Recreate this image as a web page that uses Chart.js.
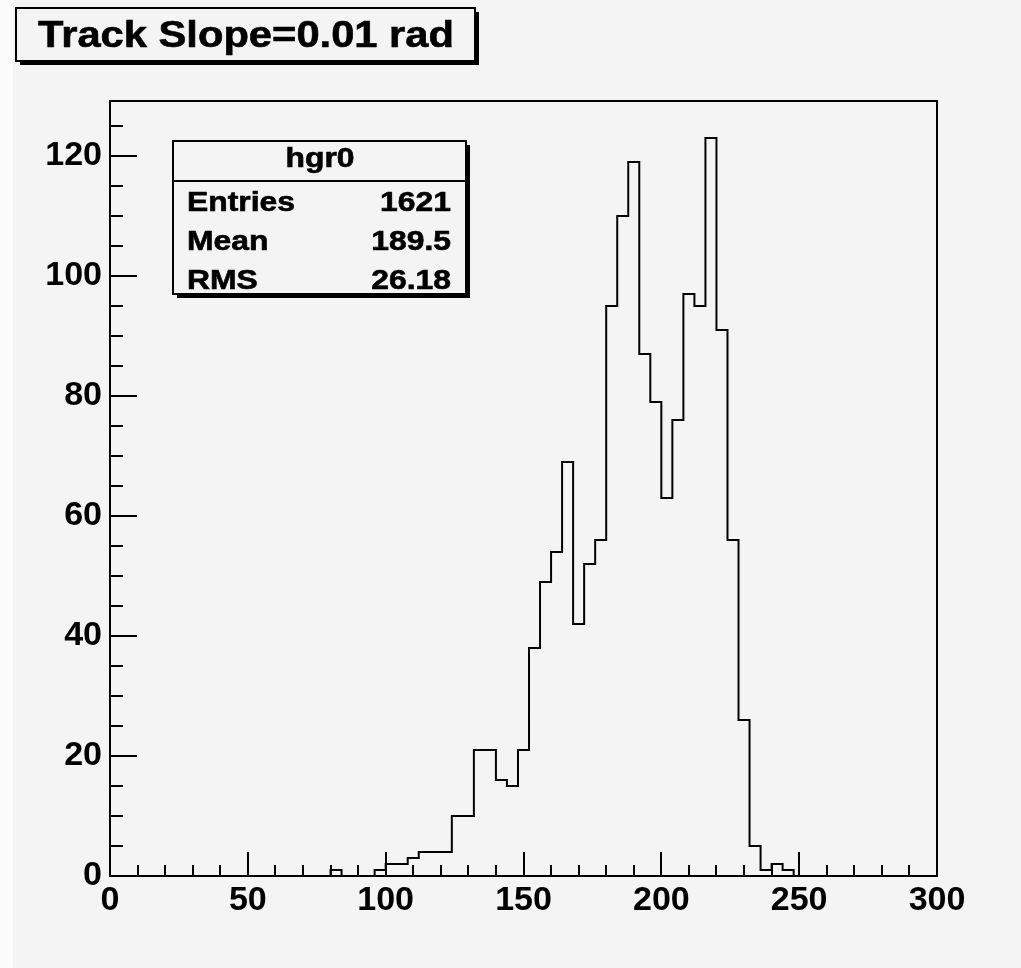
<!DOCTYPE html>
<html>
<head>
<meta charset="utf-8">
<script src="https://cdn.jsdelivr.net/npm/chart.js@4.4.0/dist/chart.umd.min.js"></script>
<style>
  html, body { margin: 0; padding: 0; background: #f4f4f4; }
  canvas { display: block; }
</style>
</head>
<body>
<canvas id="hist" width="1021" height="968"></canvas>
<script>
// hgr0: 75 bins of width 4 between 0 and 300
var xLow = 0;
var binWidth = 4;
var binCounts = [
    0, 0, 0, 0, 0, 0, 0, 0, 0, 0,
    0, 0, 0, 0, 0, 0, 0, 0, 0, 0,
    1, 0, 0, 0, 1, 2, 2, 3, 4, 4,
    4, 10, 10, 21, 21, 16, 15, 21, 38, 49,
    54, 69, 42, 52, 56, 95, 110, 119, 87, 79,
    63, 76, 97, 95, 123, 91, 56, 26, 5, 1,
    2, 1, 0, 0, 0, 0, 0, 0, 0, 0,
    0, 0, 0, 0, 0
];
var xTicks = [0, 50, 100, 150, 200, 250, 300];
var yTicks = [0, 20, 40, 60, 80, 100, 120];
var yMax = 129.15;

var titleText = 'Track Slope=0.01 rad';
var statsName = 'hgr0';
var statsLabels = ['Entries', 'Mean', 'RMS'];
var statsValues = ['1621', '189.5', '26.18'];

var BG = '#f4f4f4';
var FONT = '"Liberation Sans", Arial, Helvetica, sans-serif';

// step outline: one point per bin low edge, plus the upper edge of the last bin
var points = binCounts.map(function (c, i) {
    return {x: xLow + i * binWidth, y: c};
});
points.push({x: xLow + binCounts.length * binWidth, y: binCounts[binCounts.length - 1]});

// draws text stretched horizontally (ROOT fonts are wider than Liberation)
function stretchText(ctx, text, x, y, align, sx) {
    ctx.save();
    ctx.translate(x, y);
    ctx.scale(sx, 1);
    ctx.textAlign = align;
    ctx.fillText(text, 0, 0);
    ctx.lineWidth = 0.6;
    ctx.strokeStyle = '#000';
    ctx.strokeText(text, 0, 0);
    ctx.restore();
}

function shadowBox(ctx, x, y, w, h) {
    ctx.fillStyle = '#000';
    ctx.fillRect(x + 4, y + 4, w, h);
    ctx.fillStyle = BG;
    ctx.fillRect(x, y, w, h);
    ctx.lineWidth = 2;
    ctx.strokeStyle = '#000';
    ctx.strokeRect(x, y, w, h);
}

var rootStyle = {
    id: 'rootStyle',
    beforeDraw: function (chart) {
        var ctx = chart.ctx;
        ctx.save();
        ctx.fillStyle = BG;
        ctx.fillRect(0, 0, chart.width, chart.height);
        ctx.fillStyle = '#fbfbfb';
        ctx.fillRect(0, 0, 13, chart.height);
        ctx.restore();
    },
    afterDraw: function (chart) {
        var ctx = chart.ctx;
        var area = chart.chartArea;
        var xs = chart.scales.x;
        var ys = chart.scales.y;
        ctx.save();

        // frame
        ctx.strokeStyle = '#000';
        ctx.lineWidth = 2;
        ctx.strokeRect(area.left, area.top, area.right - area.left, area.bottom - area.top);

        // inward ticks, ROOT style
        ctx.beginPath();
        for (var v = 0; v <= ys.max; v += 5) {
            var py = Math.round(ys.getPixelForValue(v));
            var len = (v % 20 === 0) ? 27 : 13;
            ctx.moveTo(area.left, py);
            ctx.lineTo(area.left + len, py);
        }
        for (var u = xs.min; u <= xs.max; u += 10) {
            var px = Math.round(xs.getPixelForValue(u));
            var l2 = (u % 50 === 0) ? 24 : 11;
            ctx.moveTo(px, area.bottom);
            ctx.lineTo(px, area.bottom - l2);
        }
        ctx.stroke();

        // title box
        shadowBox(ctx, 16, 8, 459, 53);
        ctx.fillStyle = '#000';
        ctx.font = 'bold 37px ' + FONT;
        ctx.textBaseline = 'alphabetic';
        var tw = ctx.measureText(titleText).width;
        stretchText(ctx, titleText, 38, 47, 'left', 416 / tw);

        // stats box
        shadowBox(ctx, 173, 141, 293, 153);
        ctx.beginPath();
        ctx.moveTo(173, 181);
        ctx.lineTo(466, 181);
        ctx.stroke();
        ctx.fillStyle = '#000';
        ctx.font = 'bold 27px ' + FONT;
        stretchText(ctx, statsName, 320, 167, 'center', 1.18);
        for (var i = 0; i < statsLabels.length; i++) {
            var by = 211 + i * 39;
            stretchText(ctx, statsLabels[i], 187, by, 'left', 1.18);
            stretchText(ctx, statsValues[i], 451, by, 'right', 1.18);
        }
        ctx.restore();
    }
};

var tickFont = {family: FONT, size: 34, weight: 'bold'};

new Chart(document.getElementById('hist'), {
    type: 'line',
    data: {
        datasets: [{
            label: statsName,
            data: points,
            stepped: true,
            borderColor: '#000',
            borderWidth: 2,
            pointRadius: 0,
            fill: false
        }]
    },
    options: {
        responsive: false,
        animation: false,
        devicePixelRatio: 1,
        layout: {padding: {left: 0, top: 101, right: 84, bottom: 0}},
        plugins: {legend: {display: false}, tooltip: {enabled: false}},
        scales: {
            x: {
                type: 'linear',
                min: 0,
                max: 300,
                grid: {display: false, drawTicks: false},
                border: {display: false},
                afterBuildTicks: function (s) {
                    s.ticks = xTicks.map(function (v) { return {value: v}; });
                },
                afterFit: function (s) { s.height = 92; },
                ticks: {font: tickFont, color: '#000', padding: 4, maxRotation: 0, autoSkip: false}
            },
            y: {
                type: 'linear',
                min: 0,
                max: yMax,
                grid: {display: false, drawTicks: false},
                border: {display: false},
                afterBuildTicks: function (s) {
                    s.ticks = yTicks.map(function (v) { return {value: v}; });
                },
                afterFit: function (s) { s.width = 110; },
                ticks: {font: tickFont, color: '#000', padding: 8, autoSkip: false}
            }
        }
    },
    plugins: [rootStyle]
});
</script>
</body>
</html>
